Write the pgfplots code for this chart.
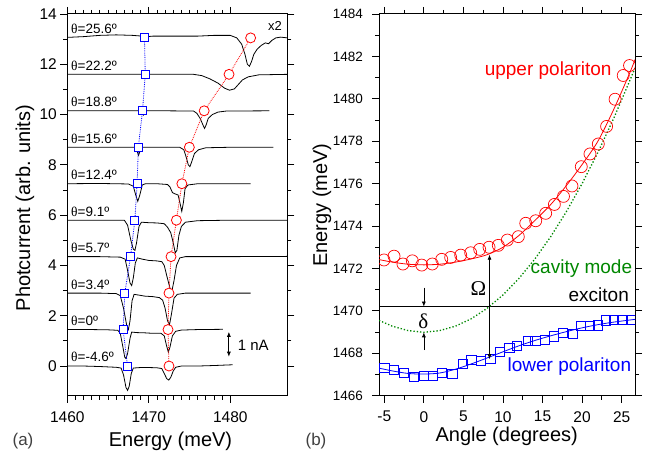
\documentclass[border=0pt]{standalone}
\usepackage{fontspec}
\setmainfont{Liberation Sans}
\newfontfamily\serif{Liberation Serif}
\usepackage{pgfplots}
\pgfplotsset{compat=1.18}
\usetikzlibrary{arrows.meta}
\definecolor{dgreen}{RGB}{0,135,0}
\definecolor{mblue}{RGB}{0,0,255}
\definecolor{mred}{RGB}{255,0,0}
\pgfplotsset{myax/.style={scale only axis, axis line style={line width=1pt}, tick align=outside,
  major tick length=7pt, minor tick length=4pt, every tick/.style={black, line width=0.8pt},
  /pgf/number format/assume math mode=true, /pgf/number format/1000 sep={}, clip marker paths=true,
  tick label style={font=\fontsize{15.5}{16}\selectfont},
  xticklabel style={yshift=-5pt}}}
\begin{document}
\begin{tikzpicture}[x=1pt,y=1pt]
\path (0pt,0pt) rectangle (649pt,455pt);
% ---------------- left panel ----------------
\begin{axis}[myax, at={(67.3pt,59.3pt)}, anchor=south west, width=220pt, height=381.7pt,
  xmin=1460, xmax=1487, ymin=-1.18, ymax=14,
  xtick={1460,1470,1480}, minor x tick num=9,
  ytick={0,2,...,14}, minor y tick num=1]
\addplot[black, line width=0.8pt] coordinates {(1460,0.0) (1462,0.0) (1464,-0.02) (1466,-0.05) (1466.6,-0.08) (1466.9,-0.35) (1467.2,-0.85) (1467.4,-0.97) (1467.6,-0.8) (1467.85,-0.3) (1468.1,-0.08) (1469,-0.06) (1470,-0.06) (1471,-0.07) (1471.6,-0.1) (1471.9,-0.3) (1472.2,-0.5) (1472.45,-0.56) (1472.7,-0.45) (1473.0,-0.2) (1473.3,-0.05) (1474,0.0) (1476,0.0) (1478,0.02) (1480.3,0.05)};
\addplot[black, line width=0.8pt] coordinates {(1460,1.45) (1463,1.45) (1465,1.44) (1466.2,1.42) (1466.5,1.3) (1466.8,0.8) (1467.05,0.35) (1467.2,0.3) (1467.4,0.5) (1467.7,1.1) (1467.9,1.35) (1468.5,1.33) (1469.5,1.32) (1470.5,1.3) (1471.5,1.3) (1471.9,1.2) (1472.15,0.85) (1472.4,0.55) (1472.6,0.75) (1472.9,1.2) (1473.3,1.38) (1474,1.43) (1476,1.45) (1479.1,1.46)};
\addplot[black, line width=0.8pt] coordinates {(1460,2.9) (1464,2.9) (1466,2.88) (1466.5,2.8) (1466.9,2.3) (1467.3,1.6) (1467.5,1.45) (1467.7,1.8) (1467.95,2.6) (1468.2,2.85) (1468.8,2.82) (1469.5,2.78) (1470.5,2.76) (1471.3,2.72) (1471.7,2.62) (1472.0,2.3) (1472.3,1.8) (1472.55,1.65) (1472.8,2.1) (1473.1,2.7) (1473.5,2.85) (1474.5,2.9) (1478,2.9) (1482.5,2.9)};
\addplot[black, line width=0.8pt] coordinates {(1460,4.35) (1464,4.35) (1466.5,4.33) (1467.1,4.25) (1467.4,3.8) (1467.7,3.3) (1467.9,3.2) (1468.1,3.5) (1468.35,4.1) (1468.6,4.3) (1469.2,4.25) (1470,4.2) (1471,4.18) (1471.6,4.15) (1471.9,4.0) (1472.2,3.6) (1472.6,3.1) (1472.85,3.0) (1473.1,3.4) (1473.4,4.0) (1473.8,4.3) (1474.5,4.35) (1480,4.35) (1487,4.36)};
\addplot[black, line width=0.8pt] coordinates {(1460,5.8) (1464,5.8) (1467,5.8) (1467.4,5.6) (1467.8,5.0) (1468.1,4.65) (1468.3,4.6) (1468.5,4.9) (1468.8,5.55) (1469.1,5.72) (1470,5.7) (1471,5.69) (1471.9,5.66) (1472.3,5.52) (1472.7,5.3) (1473.0,4.9) (1473.25,4.5) (1473.45,4.6) (1473.7,5.2) (1474.0,5.55) (1474.5,5.72) (1476,5.78) (1480,5.8) (1487,5.8)};
\addplot[black, line width=0.8pt] coordinates {(1460,7.25) (1464,7.26) (1467.5,7.24) (1468.1,7.15) (1468.4,6.8) (1468.65,6.55) (1468.9,6.8) (1469.2,7.2) (1469.6,7.25) (1471,7.25) (1472.3,7.22) (1472.6,7.12) (1472.9,6.9) (1473.2,6.85) (1473.6,6.8) (1473.85,6.45) (1474.05,6.15) (1474.25,6.5) (1474.45,7.05) (1474.8,7.2) (1476,7.25) (1482.5,7.25)};
\addplot[black, line width=0.8pt] coordinates {(1460,8.7) (1465,8.7) (1468.3,8.7) (1468.55,8.55) (1468.75,8.38) (1468.95,8.58) (1469.2,8.7) (1471,8.7) (1473.8,8.7) (1474.3,8.6) (1474.6,8.3) (1474.85,8.0) (1475.05,7.93) (1475.3,8.15) (1475.6,8.45) (1476.1,8.6) (1477,8.68) (1480,8.7) (1485.3,8.7)};
\addplot[black, line width=0.8pt] coordinates {(1460,10.15) (1465,10.15) (1469,10.15) (1469.2,10.05) (1469.35,9.98) (1469.5,10.08) (1469.7,10.15) (1472,10.15) (1475.5,10.14) (1475.9,10.05) (1476.3,9.85) (1476.5,9.7) (1476.7,9.55) (1476.85,9.45) (1477.05,9.6) (1477.3,9.85) (1477.8,10.0) (1478.5,10.1) (1479.5,10.14) (1484.8,10.15)};
\addplot[black, line width=0.8pt] coordinates {(1460,11.6) (1465,11.6) (1469.3,11.6) (1469.5,11.55) (1469.7,11.58) (1470,11.6) (1473,11.6) (1475.5,11.6) (1476.5,11.55) (1477.5,11.42) (1478.5,11.25) (1479.3,11.05) (1479.9,10.97) (1480.5,11.02) (1481.0,11.2) (1481.5,11.38) (1482.2,11.5) (1483.5,11.58) (1487,11.6)};
\addplot[black, line width=0.8pt] coordinates {(1460,13.07) (1462,13.1) (1464,13.15) (1466,13.17) (1468,13.15) (1469.2,13.12) (1469.5,13.0) (1469.8,13.1) (1470.5,13.12) (1473,13.12) (1476,13.12) (1478,13.15) (1480,13.15) (1480.8,13.05) (1481.4,12.8) (1481.8,12.4) (1482.1,12.0) (1482.35,11.92) (1482.6,12.1) (1482.9,12.4) (1483.3,12.6) (1483.8,12.75) (1484.3,12.85) (1484.7,12.82) (1485.1,12.95) (1485.6,13.05) (1486.2,13.08) (1487,13.05)};
% peak positions: dotted guide lines, then markers on top
\addplot[mblue, line width=0.8pt, densely dotted] coordinates {(1467.39,0) (1466.85,1.45) (1467.06,2.9) (1467.76,4.35) (1468.29,5.8) (1468.57,7.25) (1468.72,8.7) (1469.23,10.15) (1469.57,11.6) (1469.47,13.05)};
\addplot[mred, line width=0.8pt, densely dotted] coordinates {(1472.48,0) (1472.36,1.45) (1472.48,2.9) (1472.73,4.35) (1473.39,5.8) (1474.06,7.25) (1474.98,8.7) (1476.8,10.15) (1479.85,11.6) (1482.5,13.05)};
\addplot[only marks, mark=square*, mark size=4pt, mark options={fill=white, draw=mblue, line width=0.8pt}] coordinates {(1467.39,0) (1466.85,1.45) (1467.06,2.9) (1467.76,4.35) (1468.29,5.8) (1468.57,7.25) (1468.72,8.7) (1469.23,10.15) (1469.57,11.6) (1469.47,13.05)};
\addplot[only marks, mark=*, mark size=5pt, mark options={fill=white, draw=mred, line width=0.8pt}] coordinates {(1472.48,0) (1472.36,1.45) (1472.48,2.9) (1472.73,4.35) (1473.39,5.8) (1474.06,7.25) (1474.98,8.7) (1476.8,10.15) (1479.85,11.6) (1482.5,13.05)};
% labels
\begin{scope}[every node/.style={anchor=south west, inner sep=0pt, font=\fontsize{13.5}{14}\selectfont}]
\node at (axis cs:1460.45,0.15) {{\serif θ}=-4.6º};
\node at (axis cs:1460.45,1.60) {{\serif θ}=0º};
\node at (axis cs:1460.45,3.05) {{\serif θ}=3.4º};
\node at (axis cs:1460.45,4.50) {{\serif θ}=5.7º};
\node at (axis cs:1460.45,5.95) {{\serif θ}=9.1º};
\node at (axis cs:1460.45,7.40) {{\serif θ}=12.4º};
\node at (axis cs:1460.45,8.85) {{\serif θ}=15.6º};
\node at (axis cs:1460.45,10.30) {{\serif θ}=18.8º};
\node at (axis cs:1460.45,11.75) {{\serif θ}=22.2º};
\node at (axis cs:1460.45,13.20) {{\serif θ}=25.6º};
\end{scope}
\node[font=\fontsize{13}{14}\selectfont, inner sep=0pt] at (axis cs:1485.5,13.52) {x2};
\draw[{Latex[length=5pt,width=4pt]}-{Latex[length=5pt,width=4pt]}, line width=0.8pt] (axis cs:1479.83,0.37) -- (axis cs:1479.83,1.36);
\node[anchor=west, inner sep=0pt, font=\fontsize{15}{16}\selectfont] at (axis cs:1480.9,0.84) {1 nA};
\end{axis}
% ---------------- right panel ----------------
\begin{axis}[myax, at={(379pt,59.3pt)}, anchor=south west, width=256pt, height=381.7pt,
  xmin=-5.67, xmax=26.69, ymin=1466, ymax=1484,
  xtick={-5,0,...,25}, minor x tick num=1,
  ytick={1466,1468,...,1484}, minor y tick num=1,
  yticklabel style={font=\fontsize{13.5}{14}\selectfont, xshift=-5.5pt}]
\addplot[black, line width=0.8pt] coordinates {(-5.67,1470.2) (26.69,1470.2)};
\addplot[dgreen, line width=1.3pt, dotted] coordinates {(-5.67,1469.55) (-4,1469.28) (-2,1469.07) (0,1468.99) (2,1469.07) (4,1469.28) (6,1469.63) (8,1470.12) (10,1470.75) (12,1471.52) (14,1472.43) (16,1473.48) (18,1474.67) (20,1476.0) (22,1477.47) (24,1479.08) (26,1480.83) (26.69,1481.45)};
\addplot[mred, line width=0.8pt, smooth] coordinates {(-5.67,1472.42) (-4,1472.3) (-2,1472.2) (0,1472.17) (2,1472.2) (4,1472.3) (6,1472.45) (8,1472.65) (10,1473.0) (12,1473.55) (14,1474.25) (16,1475.0) (18,1475.9) (20,1476.9) (22,1478.0) (24,1479.5) (26,1481.2) (26.69,1481.85)};
\addplot[mblue, line width=0.8pt, smooth] coordinates {(-5.67,1467.3) (-4,1467.17) (-2,1467.05) (0,1467.02) (2,1467.07) (4,1467.25) (6,1467.5) (8,1467.78) (10,1468.07) (12,1468.35) (14,1468.6) (16,1468.82) (18,1469.02) (20,1469.2) (22,1469.35) (24,1469.47) (26.69,1469.6)};
\addplot[only marks, mark=o, mark size=6pt, mark options={mred, line width=0.7pt}] coordinates {(-5.04,1472.40) (-3.77,1472.58) (-2.64,1472.21) (-1.46,1472.36) (-0.27,1472.16) (1.07,1472.21) (2.26,1472.43) (3.39,1472.52) (4.66,1472.63) (5.92,1472.74) (7.06,1472.90) (8.24,1473.00) (9.41,1473.09) (10.55,1473.34) (11.94,1473.50) (12.88,1474.13) (14.14,1474.25) (15.4,1474.6) (16.5,1475.02) (17.65,1475.40) (18.72,1475.89) (19.9,1476.8) (21.0,1477.4) (22.05,1477.87) (23.1,1478.7) (24.17,1479.98) (25.2,1481.1) (26.0,1481.57) (26.7,1482.6)};
\addplot[only marks, mark=square, mark size=4.6pt, mark options={mblue, line width=0.7pt}] coordinates {(-5.0,1467.32) (-3.8,1467.2) (-2.5,1467.08) (-1.3,1466.88) (0.0,1466.95) (1.1,1466.95) (2.3,1467.08) (3.6,1467.03) (4.9,1467.5) (6.0,1467.68) (7.2,1467.65) (8.4,1467.72) (9.6,1468.07) (10.8,1468.25) (11.8,1468.35) (13.1,1468.6) (14.1,1468.6) (15.3,1468.62) (16.4,1468.8) (17.6,1468.97) (18.8,1468.93) (19.8,1469.28) (21.0,1469.3) (22.0,1469.32) (23.0,1469.55) (24.0,1469.58) (25.1,1469.58) (26.2,1469.56)};
\draw[{Latex[length=5pt,width=4pt]}-{Latex[length=5pt,width=4pt]}, line width=0.7pt] (axis cs:8.3,1467.72) -- (axis cs:8.3,1472.65);
\draw[-{Latex[length=5pt,width=4pt]}, line width=0.7pt] (axis cs:0,1471.1) -- (axis cs:0,1470.2);
\draw[-{Latex[length=5pt,width=4pt]}, line width=0.7pt] (axis cs:0,1468.15) -- (axis cs:0,1468.99);
\begin{scope}[every node/.style={anchor=base east, inner sep=0pt, font=\fontsize{19}{20}\selectfont}]
\node[text=mred] at (axis cs:23.75,1481.12) {upper polariton};
\node[text=dgreen] at (axis cs:26.35,1471.77) {cavity mode};
\node at (axis cs:25.94,1470.43) {exciton};
\node[text=mblue] at (axis cs:26.23,1467.13) {lower polariton};
\end{scope}
\node[font=\fontsize{21}{22}\selectfont\serif, inner sep=0pt] at (axis cs:6.9,1471.06) {Ω};
\node[font=\fontsize{21}{22}\selectfont\serif, inner sep=0pt] at (axis cs:-0.07,1469.53) {δ};
\end{axis}
% ---------------- outer labels ----------------
\node[rotate=90, inner sep=0pt, font=\fontsize{20}{21}\selectfont] at (25pt,247pt) {Photcurrent (arb. units)};
\node[rotate=90, inner sep=0pt, font=\fontsize{20}{21}\selectfont] at (322pt,250pt) {Energy (meV)};
\node[anchor=base, inner sep=0pt, font=\fontsize{20}{21}\selectfont] at (170.5pt,8.3pt) {Energy (meV)};
\node[anchor=base, inner sep=0pt, font=\fontsize{20}{21}\selectfont] at (506.7pt,13.3pt) {Angle (degrees)};
\node[anchor=base, inner sep=0pt, font=\fontsize{17}{18}\selectfont, text=black!75] at (23pt,9pt) {(a)};
\node[anchor=base, inner sep=0pt, font=\fontsize{17}{18}\selectfont, text=black!75] at (316pt,9pt) {(b)};
\end{tikzpicture}
\end{document}
